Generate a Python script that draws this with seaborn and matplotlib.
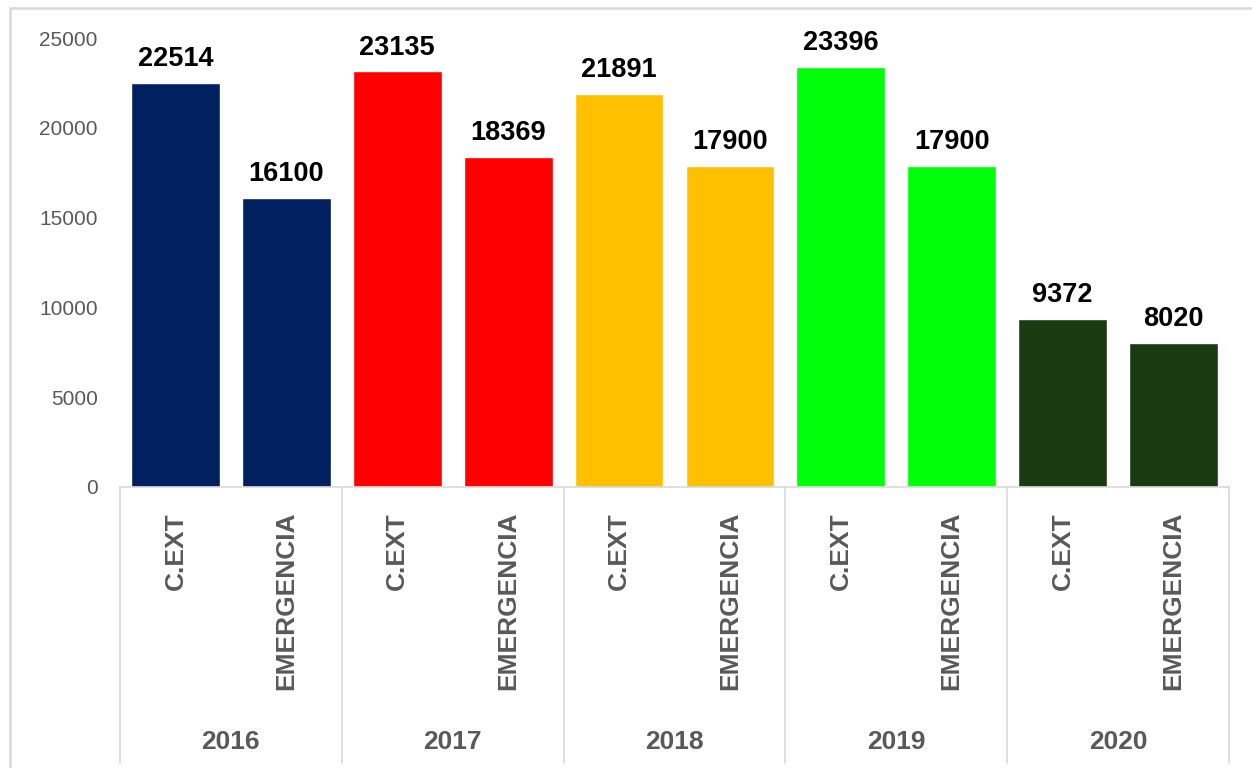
import pandas as pd
import numpy as np
import matplotlib.pyplot as plt
import matplotlib.patches as patches
import seaborn as sns

years = ['2016', '2017', '2018', '2019', '2020']
cats = ['C.EXT', 'EMERGENCIA']
cext = [22514, 23135, 21891, 23396, 9372]
emerg = [16100, 18369, 17900, 17900, 8020]
year_colors = ['#002060', '#FF0000', '#FFC000', '#00FF0A', '#1A3A12']

sns.set_style('white')
plt.rcParams['font.family'] = ['Liberation Sans', 'DejaVu Sans']

# long table, one row per bar
rows = []
for i, y in enumerate(years):
    rows.append((y, cats[0], cext[i]))
    rows.append((y, cats[1], emerg[i]))
df = pd.DataFrame(rows, columns=['year', 'cat', 'value'])
df['key'] = df['year'] + '_' + df['cat']

gray = '#595959'
light = '#d9d9d9'

fig = plt.figure(figsize=(12.52, 7.68), dpi=100)
ax = fig.add_axes([120/1252, 1 - 487/768, (1229-120)/1252, (487-38)/768])

sns.barplot(data=df, x='key', y='value', hue='year', palette=year_colors,
            dodge=False, width=0.8, legend=False, ax=ax, saturation=1)

ax.set_ylim(0, 25000)
ax.set_xlim(-0.5, len(df) - 0.5)
ax.set_yticks(range(0, 25001, 5000))
ax.tick_params(axis='y', length=0, pad=16, labelsize=15, labelcolor=gray)
ax.set_xticks(range(len(df)))
ax.set_xticklabels(df['cat'], rotation=90, fontweight='bold', fontsize=19, color=gray)
ax.tick_params(axis='x', length=0, pad=18)
ax.set_xlabel('')
ax.set_ylabel('')
for s in ['left', 'top', 'right']:
    ax.spines[s].set_visible(False)
ax.spines['bottom'].set_color(light)
ax.spines['bottom'].set_linewidth(1.2)

# value labels
for i, v in enumerate(df['value']):
    ax.annotate(str(v), (i, v), xytext=(0, 12), textcoords='offset points',
                ha='center', va='baseline', fontsize=19.5, fontweight='bold',
                color='black', annotation_clip=False)

# year groups with separators
trans = ax.get_xaxis_transform()
for g in range(len(years) + 1):
    xs = g * 2 - 0.5
    ax.plot([xs, xs], [0, -0.615], transform=trans, color=light, lw=1.2, clip_on=False)
for g, y in enumerate(years):
    ax.text(g * 2 + 0.5, -0.568, y, transform=trans, ha='center', va='center',
            fontsize=19, fontweight='bold', color=gray)

# outer chart border
fig.add_artist(patches.Rectangle((10/1252, -0.05), 1.1, 1.05 - 8/768,
                                 transform=fig.transFigure, fill=False,
                                 edgecolor=light, lw=1.8))

plt.savefig('out.png', dpi=100)
plt.close()
